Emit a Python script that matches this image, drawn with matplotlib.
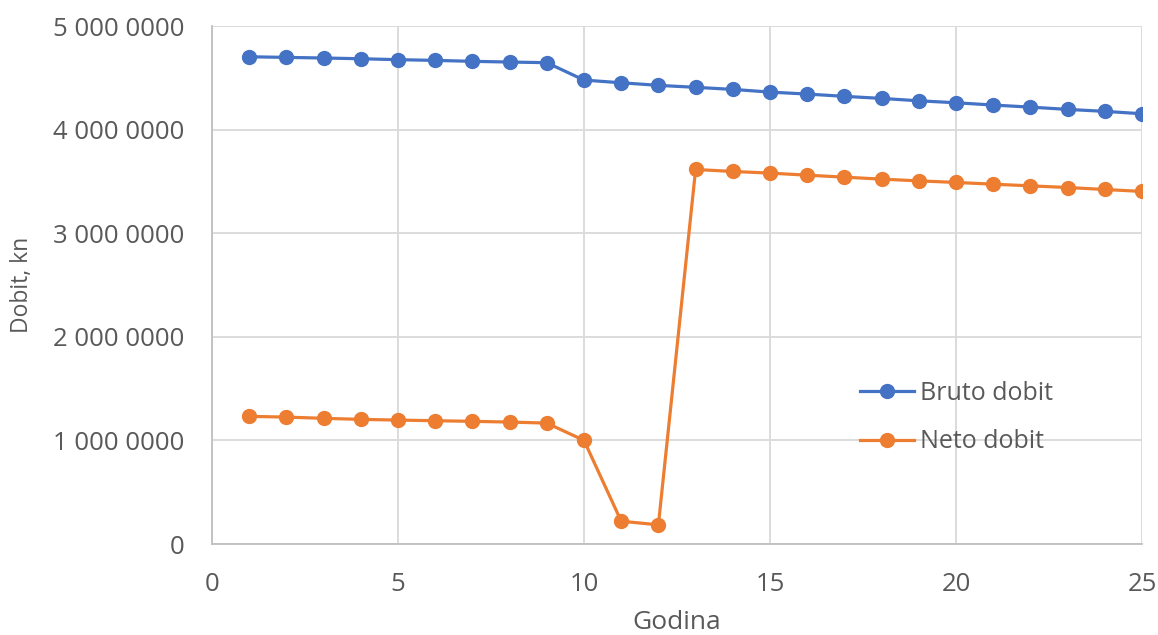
import matplotlib.pyplot as plt

godina = list(range(1, 26))
bruto = [4.703, 4.697, 4.691, 4.684, 4.675, 4.668, 4.659, 4.652, 4.646, 4.478,
         4.452, 4.427, 4.408, 4.388, 4.362, 4.343, 4.321, 4.301, 4.278, 4.259,
         4.237, 4.217, 4.195, 4.176, 4.153]
neto = [1.232, 1.225, 1.213, 1.203, 1.196, 1.190, 1.184, 1.177, 1.167, 1.000,
        0.220, 0.185, 3.615, 3.596, 3.580, 3.560, 3.541, 3.522, 3.505, 3.490,
        3.473, 3.457, 3.441, 3.422, 3.403]
y_ticks = [0, 1, 2, 3, 4, 5]
y_labels = ['0', '1 000 0000', '2 000 0000', '3 000 0000', '4 000 0000', '5 000 0000']
x_ticks = [0, 5, 10, 15, 20, 25]

plt.rcParams['font.family'] = ['Open Sans', 'DejaVu Sans']
txt = '#595959'

fig = plt.figure(figsize=(11.58, 6.35), dpi=100)
ax = fig.add_axes([212 / 1158, 91 / 635, 930 / 1158, 518 / 635])

ax.plot(godina, bruto, marker='o', ms=10, lw=2.3, c='#4472C4', label='Bruto dobit', zorder=3)
ax.plot(godina, neto, marker='o', ms=10, lw=2.3, c='#ED7D31', label='Neto dobit', zorder=3)

ax.set_xlim(0, 25)
ax.set_ylim(0, 5)
ax.set_xticks(x_ticks)
ax.set_yticks(y_ticks)
ax.set_yticklabels(y_labels)
ax.grid(True, color='#d9d9d9', lw=1.3)
ax.set_axisbelow(True)
ax.tick_params(length=0, labelsize=18.5, colors=txt, pad=20)
for s in ['top', 'right']:
    ax.spines[s].set_visible(False)
for s in ['left', 'bottom']:
    ax.spines[s].set_color('#bfbfbf')
    ax.spines[s].set_linewidth(1.3)

ax.set_xlabel('Godina', fontsize=19, color=txt, va='center')
ax.xaxis.set_label_coords(0.5, -0.1525)
ax.set_ylabel('Dobit, kn', fontsize=16.5, color=txt, va='center')
ax.yaxis.set_label_coords(-0.2043, 0.5)

ax.legend(loc='center left', bbox_to_anchor=(0.697, 0.244), frameon=False,
          fontsize=18, labelcolor=txt, handlelength=2.16, handletextpad=0.24,
          labelspacing=0.95, borderpad=0, borderaxespad=0)

fig.savefig('out.png', dpi=100)
